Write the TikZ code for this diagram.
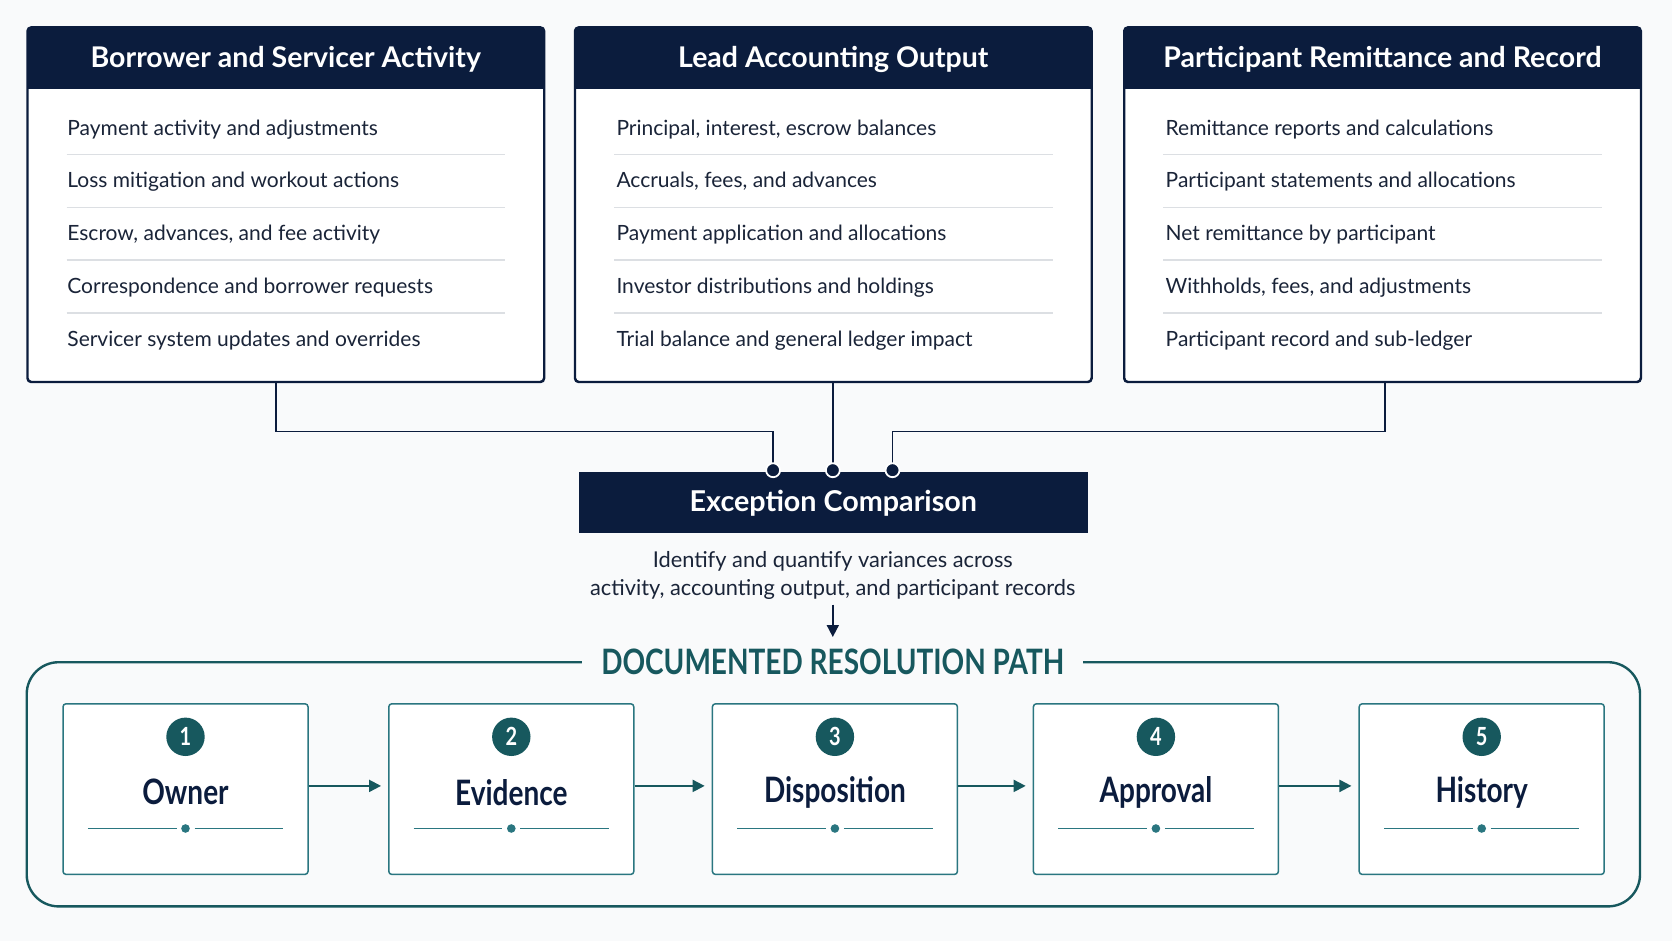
\documentclass[tikz,border=0pt]{standalone}
\usepackage{fontspec}
\setmainfont{Lato}
\newfontfamily\condfont[FakeStretch=0.80]{Lato}
\usetikzlibrary{arrows.meta}
\definecolor{bg}{HTML}{F9FAFB}
\definecolor{navy}{HTML}{0B1C3D}
\definecolor{ink}{HTML}{1A2438}
\definecolor{tealdark}{HTML}{17585E}
\definecolor{tealmid}{HTML}{2A7680}
\definecolor{sepgray}{HTML}{DCDFE3}
\tikzset{
  panel/.style={draw=navy, fill=white, line width=1.5pt, rounded corners=4pt,
    minimum width=516pt, minimum height=354pt, inner sep=0pt},
  panelhead/.style={fill=navy, rounded corners=4pt, minimum width=516pt,
    minimum height=60.8pt, inner sep=0pt},
  headtext/.style={text=white, inner sep=0pt, font=\fontsize{28.5}{32}\selectfont\bfseries},
  item/.style={anchor=west, inner sep=0pt, text=ink, text height=15pt, text depth=4pt,
    font=\fontsize{21}{25}\selectfont},
  sepline/.style={draw=sepgray, line width=1.5pt},
  conn/.style={draw=navy, line width=1.8pt},
  dotn/.style={circle, fill=navy, draw=white, line width=1.8pt, minimum size=14pt, inner sep=0pt},
  exc/.style={fill=navy, minimum width=508.6pt, minimum height=60.8pt, inner sep=0pt,
    text=white, font=\fontsize{28.7}{32}\selectfont\bfseries},
  desc/.style={align=center, text=ink, inner sep=0pt, font=\fontsize{21.8}{27.8}\selectfont},
  downarr/.style={draw=navy, line width=1.8pt, -{Triangle[length=12pt,width=12pt]}},
  outerbox/.style={draw=tealdark, line width=2.4pt, rounded corners=32pt,
    minimum width=1613.3pt, minimum height=244.2pt, inner sep=0pt},
  ptitle/.style={fill=bg, inner xsep=19pt, inner ysep=2pt, text=tealdark,
    font=\fontsize{35}{38}\selectfont\condfont\bfseries},
  stepbox/.style={draw=tealmid, fill=white, line width=1.5pt, rounded corners=3pt,
    minimum width=245pt, minimum height=170.6pt, inner sep=0pt},
  numc/.style={circle, fill=tealdark, minimum size=38.4pt, inner sep=0pt, text=white,
    font=\fontsize{25}{28}\selectfont\condfont\bfseries},
  steplabel/.style={text=navy, inner sep=0pt, font=\fontsize{35}{40}\selectfont\condfont\bfseries},
  uline/.style={draw=tealmid, line width=1.5pt},
  udot/.style={circle, fill=tealmid, minimum size=8.6pt, inner sep=0pt},
  stepArr/.style={draw=tealdark, line width=2pt, -{Triangle[length=12pt,width=12pt]}}
}
\begin{document}
\begin{tikzpicture}[x=1pt,y=-1pt]
\fill[bg] (0,0) rectangle (1672,941);
\useasboundingbox (0,0) rectangle (1672,941);

% ---------- panels ----------
\node[panel] (p1) at (285.8,204.7) {};
\node[panel] (p2) at (833.3,204.7) {};
\node[panel] (p3) at (1382.5,204.7) {};
\foreach \p/\t in {p1/Borrower and Servicer Activity, p2/Lead Accounting Output, p3/Participant Remittance and Record}{
  \node[panelhead, anchor=north] (\p h) at ([yshift=-0.75pt]\p.north) {};
  \fill[navy] ([yshift=8pt]\p h.south west) rectangle (\p h.south east);
  \node[headtext] (\p t) at ([yshift=-1pt]\p h.center) {\t};
  \draw[navy, line width=1.5pt, rounded corners=4pt] (\p.south west) rectangle (\p.north east);
  \foreach \k in {0,1,2,3}{
    \draw[sepline] ([xshift=39.5pt]\p.west |- 0,{154.6+52.8*\k}) -- ([xshift=-39.5pt]\p.east |- 0,{154.6+52.8*\k});
  }
}
% items panel 1
\node[item] (a1) at (67.2,129.6) {Payment activity and adjustments};
\node[item] (a2) at (67.2,182.4) {Loss mitigation and workout actions};
\node[item] (a3) at (67.2,235.2) {Escrow, advances, and fee activity};
\node[item] (a4) at (67.2,288.0) {Correspondence and borrower requests};
\node[item] (a5) at (67.2,340.8) {Servicer system updates and overrides};
% items panel 2
\node[item] (b1) at (616.3,129.6) {Principal, interest, escrow balances};
\node[item] (b2) at (616.3,182.4) {Accruals, fees, and advances};
\node[item] (b3) at (616.3,235.2) {Payment application and allocations};
\node[item] (b4) at (616.3,288.0) {Investor distributions and holdings};
\node[item] (b5) at (616.3,340.8) {Trial balance and general ledger impact};
% items panel 3
\node[item] (c1) at (1165.5,129.6) {Remittance reports and calculations};
\node[item] (c2) at (1165.5,182.4) {Participant statements and allocations};
\node[item] (c3) at (1165.5,235.2) {Net remittance by participant};
\node[item] (c4) at (1165.5,288.0) {Withholds, fees, and adjustments};
\node[item] (c5) at (1165.5,340.8) {Participant record and sub-ledger};

% ---------- exception comparison ----------
\node[exc] (ex) at (833.3,502.8) {Exception Comparison};
\coordinate (d1) at (773.1,470.2);
\coordinate (d2) at (832.8,470.2);
\coordinate (d3) at (892.5,470.2);
\draw[conn] ([xshift=-9.6pt]p1.south) -- ++(0,49.1) -| (d1);
\draw[conn] (p2.south -| d2) -- (d2);
\draw[conn] ([xshift=2.6pt]p3.south) -- ++(0,49.1) -| (d3);
\node[dotn] (dot1) at (d1) {};
\node[dotn] (dot2) at (d2) {};
\node[dotn] (dot3) at (d3) {};

\node[desc] (desc) at (832.8,575.2) {Identify and quantify variances across\\activity, accounting output, and participant records};
\coordinate (ar0) at (832.8,604.6);
\coordinate (ar1) at (832.8,637);
\draw[downarr] (ar0) -- (ar1);

% ---------- resolution path ----------
\node[outerbox] (ob) at (833.35,784.3) {};
\node[ptitle] (pt) at (832.8,662.2) {DOCUMENTED RESOLUTION PATH};

\foreach \i/\cx/\lab in {1/185.5/Owner, 2/511.3/Evidence, 3/834.9/Disposition, 4/1155.9/Approval, 5/1481.7/History}{
  \node[stepbox] (s\i) at (\cx,789.1) {};
  \node[numc] (n\i) at (\cx,736.8) {\i};
  \node[steplabel] (l\i) at (\cx,792.3) {\lab};
  \node[udot] (u\i) at (\cx,828.5) {};
  \draw[uline] ([xshift=-97.6pt]u\i.center) -- ([xshift=-9pt]u\i.center);
  \draw[uline] ([xshift=9pt]u\i.center) -- ([xshift=97.6pt]u\i.center);
}
\foreach \a/\b in {1/2,2/3,3/4,4/5}{
  \draw[stepArr] ([yshift=3.2pt]s\a.east) -- ([yshift=3.2pt,xshift=-7pt]s\b.west);
}
\end{tikzpicture}
\end{document}
